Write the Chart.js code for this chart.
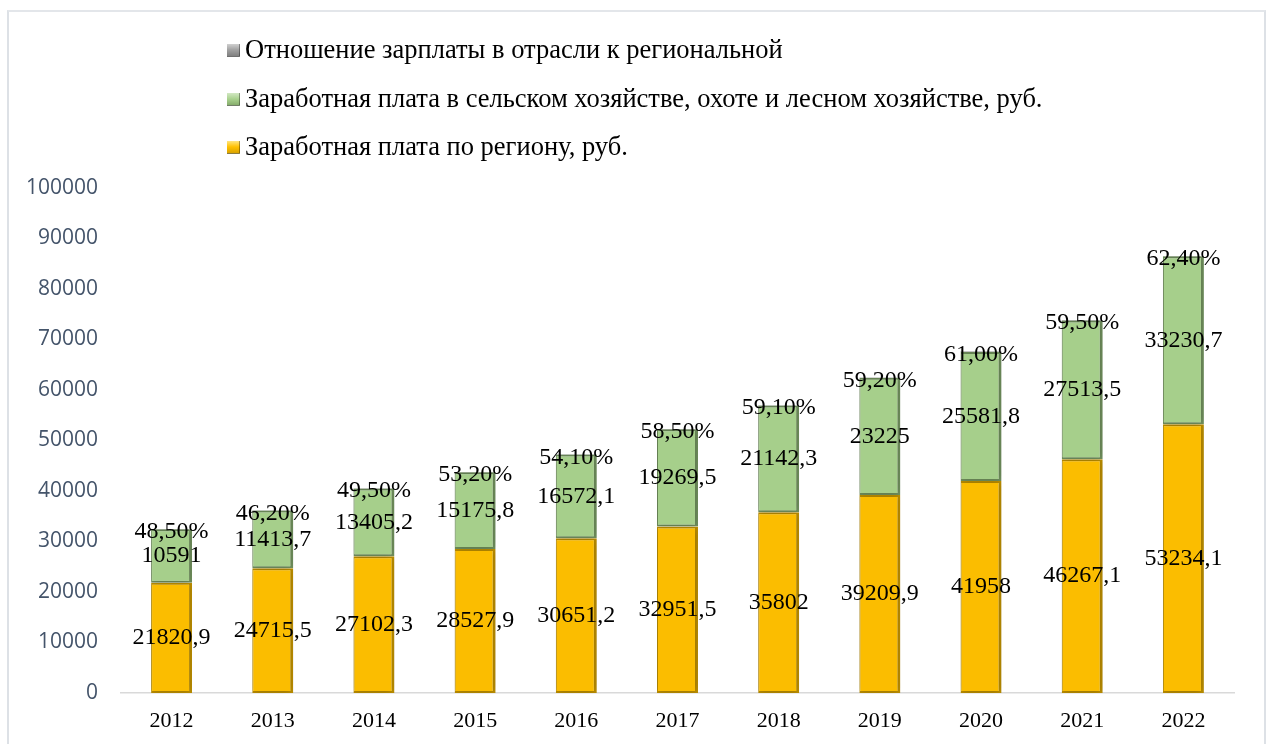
<!DOCTYPE html>
<html>
<head>
<meta charset="utf-8">
<script src="https://cdn.jsdelivr.net/npm/chart.js@4/dist/chart.umd.min.js"></script>
<style>
  html, body { margin: 0; padding: 0; background: #fff; width: 1272px; height: 744px; overflow: hidden; }
  #frame { position: absolute; left: 7px; top: 10px; width: 1255px; height: 800px; border-left: 2px solid #dde1e6; border-right: 2px solid #dde1e6; border-top: 2px solid #e3e6ea; }
  #chart { position: absolute; left: 0; top: 0; }
  .leg { position: absolute; left: 227px; font-family: "Liberation Serif", "Times New Roman", serif; font-size: 26.5px; color: #000; white-space: nowrap; line-height: 30px; }
  .leg .box { display: inline-block; width: 13px; height: 13px; margin-right: 5px; vertical-align: 1px; box-sizing: border-box; border-right: 1.5px solid rgba(0,0,0,0.35); border-bottom: 1.5px solid rgba(0,0,0,0.45); }
</style>
</head>
<body>
<div id="frame"></div>
<canvas id="chart" width="1272" height="744"></canvas>
<div id="legend"></div>
<script>
const categories = ['2012','2013','2014','2015','2016','2017','2018','2019','2020','2021','2022'];
const regionWage = [21820.9, 24715.5, 27102.3, 28527.9, 30651.2, 32951.5, 35802, 39209.9, 41958, 46267.1, 53234.1];
const agriWage = [10591, 11413.7, 13405.2, 15175.8, 16572.1, 19269.5, 21142.3, 23225, 25581.8, 27513.5, 33230.7];
const ratioPct = [48.5, 46.2, 49.5, 53.2, 54.1, 58.5, 59.1, 59.2, 61.0, 59.5, 62.4];
const seriesNames = [
  'Заработная плата по региону, руб.',
  'Заработная плата в сельском хозяйстве, охоте и лесном хозяйстве, руб.',
  'Отношение зарплаты в отрасли к региональной'
];
const yTicks = [0, 10000, 20000, 30000, 40000, 50000, 60000, 70000, 80000, 90000, 100000];

// HTML legend (reverse order, stacked vertically)
const legendEl = document.getElementById('legend');
const legendBoxes = [
  'linear-gradient(#ffe680, #ffc000 50%, #d9a300)',
  'linear-gradient(#d2e8c3, #a9d18e 50%, #86ad6c)',
  'linear-gradient(#d0d0d0, #a0a0a0 50%, #808080)'
];
const legendTops = [131, 83, 34];
[2, 1, 0].forEach(i => {
  const d = document.createElement('div');
  d.className = 'leg';
  d.style.top = legendTops[i] + 'px';
  const b = document.createElement('span');
  b.className = 'box';
  b.style.background = legendBoxes[i];
  d.appendChild(b);
  d.appendChild(document.createTextNode(seriesNames[i]));
  legendEl.appendChild(d);
});

const serif = '"Liberation Serif", "Times New Roman", serif';

const shadowPlugin = {
  id: 'barShadow',
  beforeDatasetDraw(chart, args) {
    if (args.index < 2) {
      const ctx = chart.ctx;
      ctx.save();
      ctx.shadowColor = 'rgba(0,0,0,0.22)';
      ctx.shadowBlur = 7;
      ctx.shadowOffsetX = 0;
      ctx.shadowOffsetY = 0;
    }
  },
  afterDatasetDraw(chart, args) {
    if (args.index < 2) chart.ctx.restore();
  }
};

const labelPlugin = {
  id: 'valueLabels',
  afterDatasetsDraw(chart) {
    const ctx = chart.ctx;
    ctx.save();
    ctx.font = '24px ' + serif;
    ctx.fillStyle = '#000';
    ctx.textAlign = 'center';
    ctx.textBaseline = 'middle';
    chart.data.datasets.forEach((ds, i) => {
      const meta = chart.getDatasetMeta(i);
      meta.data.forEach((bar, j) => {
        const v = ds.data[j];
        let text, y;
        if (i === 2) {
          text = v.toFixed(2).replace('.', ',') + '%';
          y = bar.y + 3;
        } else {
          text = String(v).replace('.', ',');
          y = (bar.y + bar.base) / 2;
        }
        ctx.fillText(text, bar.x, y);
      });
    });
    ctx.restore();
  }
};

new Chart(document.getElementById('chart'), {
  type: 'bar',
  data: {
    labels: categories,
    datasets: [
      { label: seriesNames[0], data: regionWage, backgroundColor: '#fbbd00', borderColor: '#b98c00',
        borderWidth: {left: 1, right: 3, top: 2, bottom: 2}, borderSkipped: false },
      { label: seriesNames[1], data: agriWage, backgroundColor: '#a6cf8b', borderColor: '#6e8d5b',
        borderWidth: {left: 1, right: 3, top: 2, bottom: 2}, borderSkipped: false },
      { label: seriesNames[2], data: ratioPct, backgroundColor: '#8c8c8c', borderWidth: 0 }
    ]
  },
  options: {
    responsive: false,
    animation: false,
    devicePixelRatio: 1,
    layout: { padding: { top: 188, right: 38, left: 0, bottom: 0 } },
    datasets: { bar: { categoryPercentage: 1, barPercentage: 0.405 } },
    plugins: { legend: { display: false }, tooltip: { enabled: false } },
    scales: {
      x: {
        stacked: true,
        grid: { display: false, drawTicks: false },
        border: { display: true, color: '#d9d9d9', width: 1.5 },
        ticks: { color: '#000', font: { family: serif, size: 22 }, padding: 15 },
        afterFit(scale) { scale.height = 51; }
      },
      y: {
        stacked: true,
        min: 0, max: 100000,
        grid: { display: false, drawTicks: false },
        border: { display: false },
        afterBuildTicks(scale) { scale.ticks = yTicks.map(v => ({ value: v })); },
        ticks: { color: '#44546a', font: { family: '"Open Sans", sans-serif', size: 21 }, padding: 23,
          callback: v => String(v) },
        afterFit(scale) { scale.width = 121; }
      }
    }
  },
  plugins: [shadowPlugin, labelPlugin]
});
</script>
</body>
</html>
